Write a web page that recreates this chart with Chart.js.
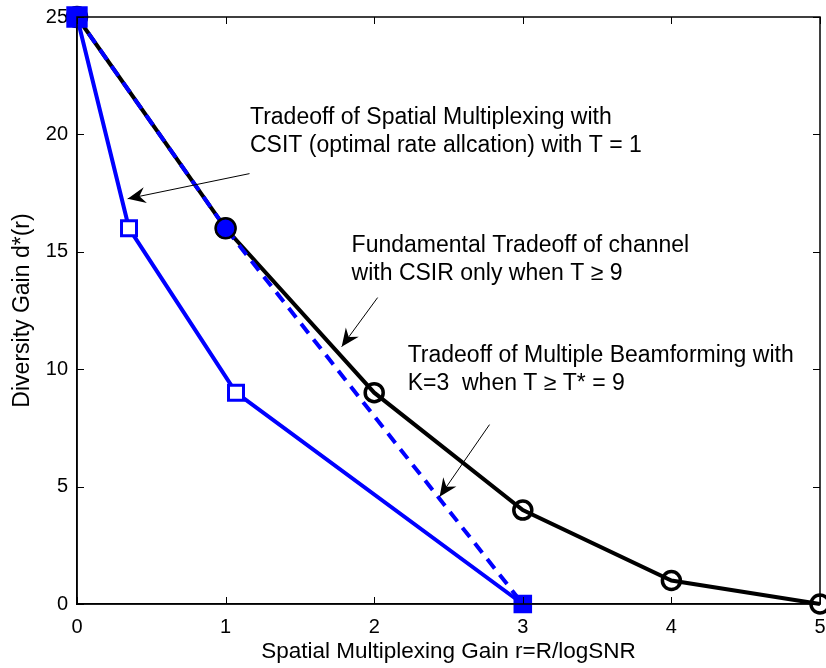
<!DOCTYPE html>
<html>
<head>
<meta charset="utf-8">
<script src="https://cdn.jsdelivr.net/npm/chart.js@4/dist/chart.umd.min.js"></script>
<style>
html,body{margin:0;padding:0;background:#fff;}
#wrap{width:826px;height:668px;}
</style>
</head>
<body>
<div id="wrap"><canvas id="c" width="826" height="668"></canvas></div>
<script>
// ---- data ----
const fundamentalR = [0, 1, 2, 3, 4, 5];
const fundamentalD = [25, 16, 9, 4, 1, 0];
const beamformR = [0, 1, 3];
const beamformD = [25, 16, 0];
const csitR = [0, 0.35, 1.07, 3];
const csitD = [25, 16, 9, 0];
const xTicks = [0, 1, 2, 3, 4, 5];
const yTicks = [0, 5, 10, 15, 20, 25];

// ---- annotations (data coordinates) ----
const notes = [
  {x: 1.164, y: 20.71, lines: ['Tradeoff of Spatial Multiplexing with', 'CSIT (optimal rate allcation) with T = 1']},
  {x: 1.848, y: 15.26, lines: ['Fundamental Tradeoff of channel', 'with CSIR only when T \u2265 9']},
  {x: 2.225, y: 10.57, lines: ['Tradeoff of Multiple Beamforming with', 'K=3  when T \u2265 T* = 9']}
];
const arrows = [
  {x1: 1.161, y1: 18.33, x2: 0.341, y2: 17.26},
  {x1: 2.023, y1: 13.05, x2: 1.781, y2: 10.96},
  {x1: 2.776, y1: 7.64, x2: 2.440, y2: 4.57}
];

const FONT = '"Liberation Sans", Arial, Helvetica, sans-serif';
const BLUE = '#0000ff';

function pts(xs, ys) { return xs.map((x, i) => ({x: x, y: ys[i]})); }

const boxPlugin = {
  id: 'boxAndNotes',
  afterDatasetsDraw(chart) {
    const ctx = chart.ctx, a = chart.chartArea;
    const xs = chart.scales.x, ys = chart.scales.y;
    ctx.save();
    ctx.strokeStyle = '#000';
    ctx.lineWidth = 1.5;
    ctx.beginPath();
    ctx.moveTo(a.left, a.bottom); ctx.lineTo(a.left, a.top); ctx.lineTo(a.right, a.top);
    ctx.lineTo(a.right, a.bottom); ctx.closePath();
    ctx.stroke();
    ctx.lineWidth = 1;
    const tl = 7;
    ctx.beginPath();
    xTicks.forEach(v => {
      const px = Math.round(xs.getPixelForValue(v)) + 0.5;
      ctx.moveTo(px, a.bottom); ctx.lineTo(px, a.bottom - tl);
      ctx.moveTo(px, a.top); ctx.lineTo(px, a.top + tl);
    });
    yTicks.forEach(v => {
      const py = Math.round(ys.getPixelForValue(v)) + 0.5;
      ctx.moveTo(a.left, py); ctx.lineTo(a.left + tl, py);
      ctx.moveTo(a.right, py); ctx.lineTo(a.right - tl, py);
    });
    ctx.stroke();
    ctx.fillStyle = '#000';
    ctx.font = '23px ' + FONT;
    ctx.textAlign = 'left';
    ctx.textBaseline = 'middle';
    notes.forEach(n => {
      const px = xs.getPixelForValue(n.x), py = ys.getPixelForValue(n.y);
      n.lines.forEach((t, i) => ctx.fillText(t, px, py + i * 28));
    });
    arrows.forEach(ar => {
      const x1 = xs.getPixelForValue(ar.x1), y1 = ys.getPixelForValue(ar.y1);
      const x2 = xs.getPixelForValue(ar.x2), y2 = ys.getPixelForValue(ar.y2);
      const ang = Math.atan2(y2 - y1, x2 - x1);
      ctx.strokeStyle = '#000';
      ctx.lineWidth = 1;
      ctx.beginPath(); ctx.moveTo(x1, y1); ctx.lineTo(x2, y2); ctx.stroke();
      const L = 18, W = 8, N = 12;
      const c = Math.cos(ang), s = Math.sin(ang);
      const bx = x2 - L * c, by = y2 - L * s;
      const nx = x2 - N * c, ny = y2 - N * s;
      ctx.beginPath();
      ctx.moveTo(x2, y2);
      ctx.lineTo(bx - W * s, by + W * c);
      ctx.lineTo(nx, ny);
      ctx.lineTo(bx + W * s, by - W * c);
      ctx.closePath();
      ctx.fillStyle = '#000';
      ctx.fill();
    });
    ctx.restore();
  }
};

new Chart(document.getElementById('c'), {
  type: 'line',
  data: {
    datasets: [
      {
        label: 'CSIT',
        data: pts(csitR, csitD),
        borderColor: BLUE,
        borderWidth: 4,
        pointStyle: 'rect',
        pointRadius: [13, 10.6, 10.6, 11],
        pointBackgroundColor: [BLUE, '#fff', '#fff', BLUE],
        pointBorderColor: BLUE,
        pointBorderWidth: 3,
        showLine: true,
        order: 0,
        clip: false
      },
      {
        label: 'Beamforming',
        data: pts(beamformR, beamformD),
        borderColor: BLUE,
        borderWidth: 4,
        borderDash: [12, 8],
        pointStyle: 'circle',
        pointRadius: [10, 10, 0],
        pointBackgroundColor: BLUE,
        pointBorderColor: '#000',
        pointBorderWidth: 2.5,
        showLine: true,
        order: 1,
        clip: false
      },
      {
        label: 'Fundamental',
        data: pts(fundamentalR, fundamentalD),
        borderColor: '#000',
        borderWidth: 4,
        pointStyle: 'circle',
        pointRadius: 9,
        pointBackgroundColor: 'rgba(0,0,0,0)',
        pointBorderColor: '#000',
        pointBorderWidth: 3.5,
        showLine: true,
        order: 2,
        clip: false
      }
    ]
  },
  options: {
    responsive: false,
    animation: false,
    devicePixelRatio: 1,
    layout: {autoPadding: false, padding: {top: 17, right: 6, left: 0, bottom: 0}},
    plugins: {legend: {display: false}, tooltip: {enabled: false}},
    elements: {line: {tension: 0}},
    scales: {
      x: {
        type: 'linear', min: 0, max: 5,
        afterFit(s) { s.height = 64; s.paddingLeft = 0; s.paddingRight = 0; },
        afterBuildTicks(s) { s.ticks = xTicks.map(v => ({value: v})); },
        grid: {display: false, drawTicks: false},
        border: {display: true, color: '#000', width: 1.5},
        ticks: {color: '#000', font: {family: FONT, size: 20}, padding: 11, maxRotation: 0},
        title: {display: true, text: 'Spatial Multiplexing Gain r=R/logSNR', color: '#000',
                font: {family: FONT, size: 22.5}, padding: {top: 0, bottom: 3}}
      },
      y: {
        type: 'linear', min: 0, max: 25,
        afterFit(s) { s.width = 77; s.paddingTop = 0; s.paddingBottom = 0; },
        afterBuildTicks(s) { s.ticks = yTicks.map(v => ({value: v})); },
        grid: {display: false, drawTicks: false},
        border: {display: true, color: '#000', width: 1.5},
        ticks: {color: '#000', font: {family: FONT, size: 20}, padding: 9},
        title: {display: true, text: 'Diversity Gain d*(r)', color: '#000',
                font: {family: FONT, size: 23}, padding: {top: 9, bottom: 0}}
      }
    }
  },
  plugins: [boxPlugin]
});
</script>
</body>
</html>
